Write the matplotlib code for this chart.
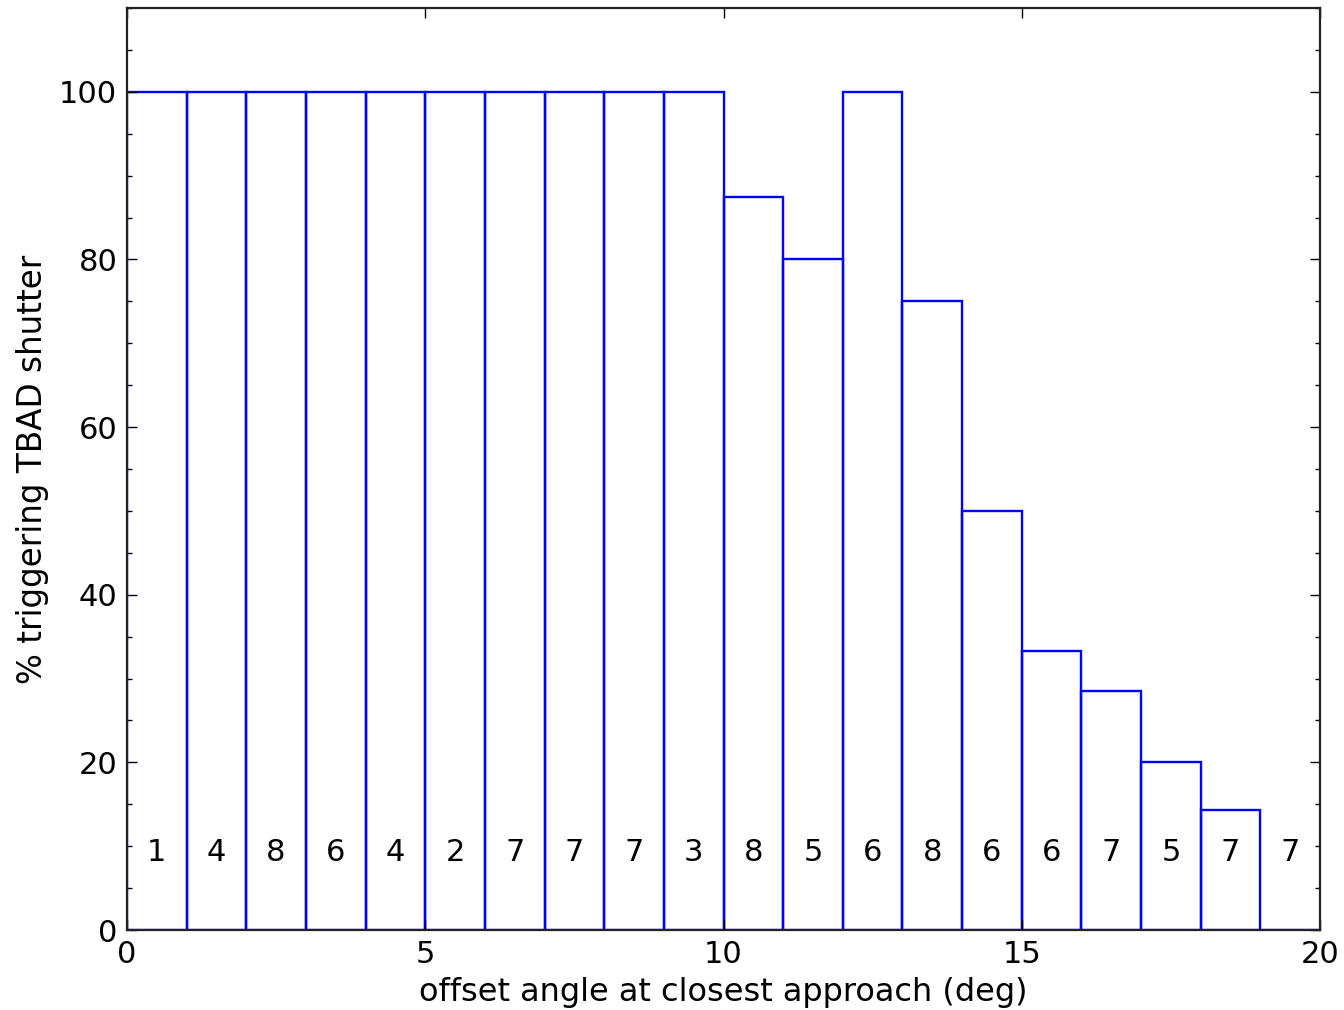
import numpy as np
import matplotlib
matplotlib.use('Agg')
import matplotlib.pyplot as plt
from matplotlib.ticker import MultipleLocator

# bins of 1 deg from 0 to 20
bin_edges = list(range(0, 21))
pct_triggered = [100, 100, 100, 100, 100, 100, 100, 100, 100, 100,
                 87.5, 80, 100, 75, 50, 33.33, 28.57, 20, 14.29, 0]
n_events = [1, 4, 8, 6, 4, 2, 7, 7, 7, 3, 8, 5, 6, 8, 6, 6, 7, 5, 7, 7]

plt.rcParams['font.family'] = 'DejaVu Sans'
plt.rcParams['font.size'] = 22

fig = plt.figure(figsize=(13.44, 10.10), dpi=100)
ax = fig.add_axes([127 / 1344, 1 - 930 / 1010, (1320 - 127) / 1344, (930 - 8) / 1010])

ax.bar(bin_edges[:-1], pct_triggered, width=1, align='edge', fill=False,
       edgecolor='blue', linewidth=1.7)

# number of events per bin
for i, n in enumerate(n_events):
    ax.text(bin_edges[i] + 0.5, 9.3, str(n), ha='center', va='center', fontsize=22)

ax.set_xlim(0, 20)
ax.set_ylim(0, 110)
ax.xaxis.set_major_locator(MultipleLocator(5))
ax.yaxis.set_minor_locator(MultipleLocator(5))
ax.set_yticks([0, 20, 40, 60, 80, 100])

ax.tick_params(which='both', direction='in', top=True, right=True, width=1)
ax.tick_params(which='major', length=7, pad=7, labelsize=22)
ax.tick_params(which='minor', length=3.5)
for s in ax.spines.values():
    s.set_linewidth(1.6)
    s.set_color('#222222')

ax.set_xlabel('offset angle at closest approach (deg)', fontsize=23, labelpad=6)
ax.set_ylabel('% triggering TBAD shutter', fontsize=23.5, labelpad=7)

fig.savefig('out.png', dpi=100)
